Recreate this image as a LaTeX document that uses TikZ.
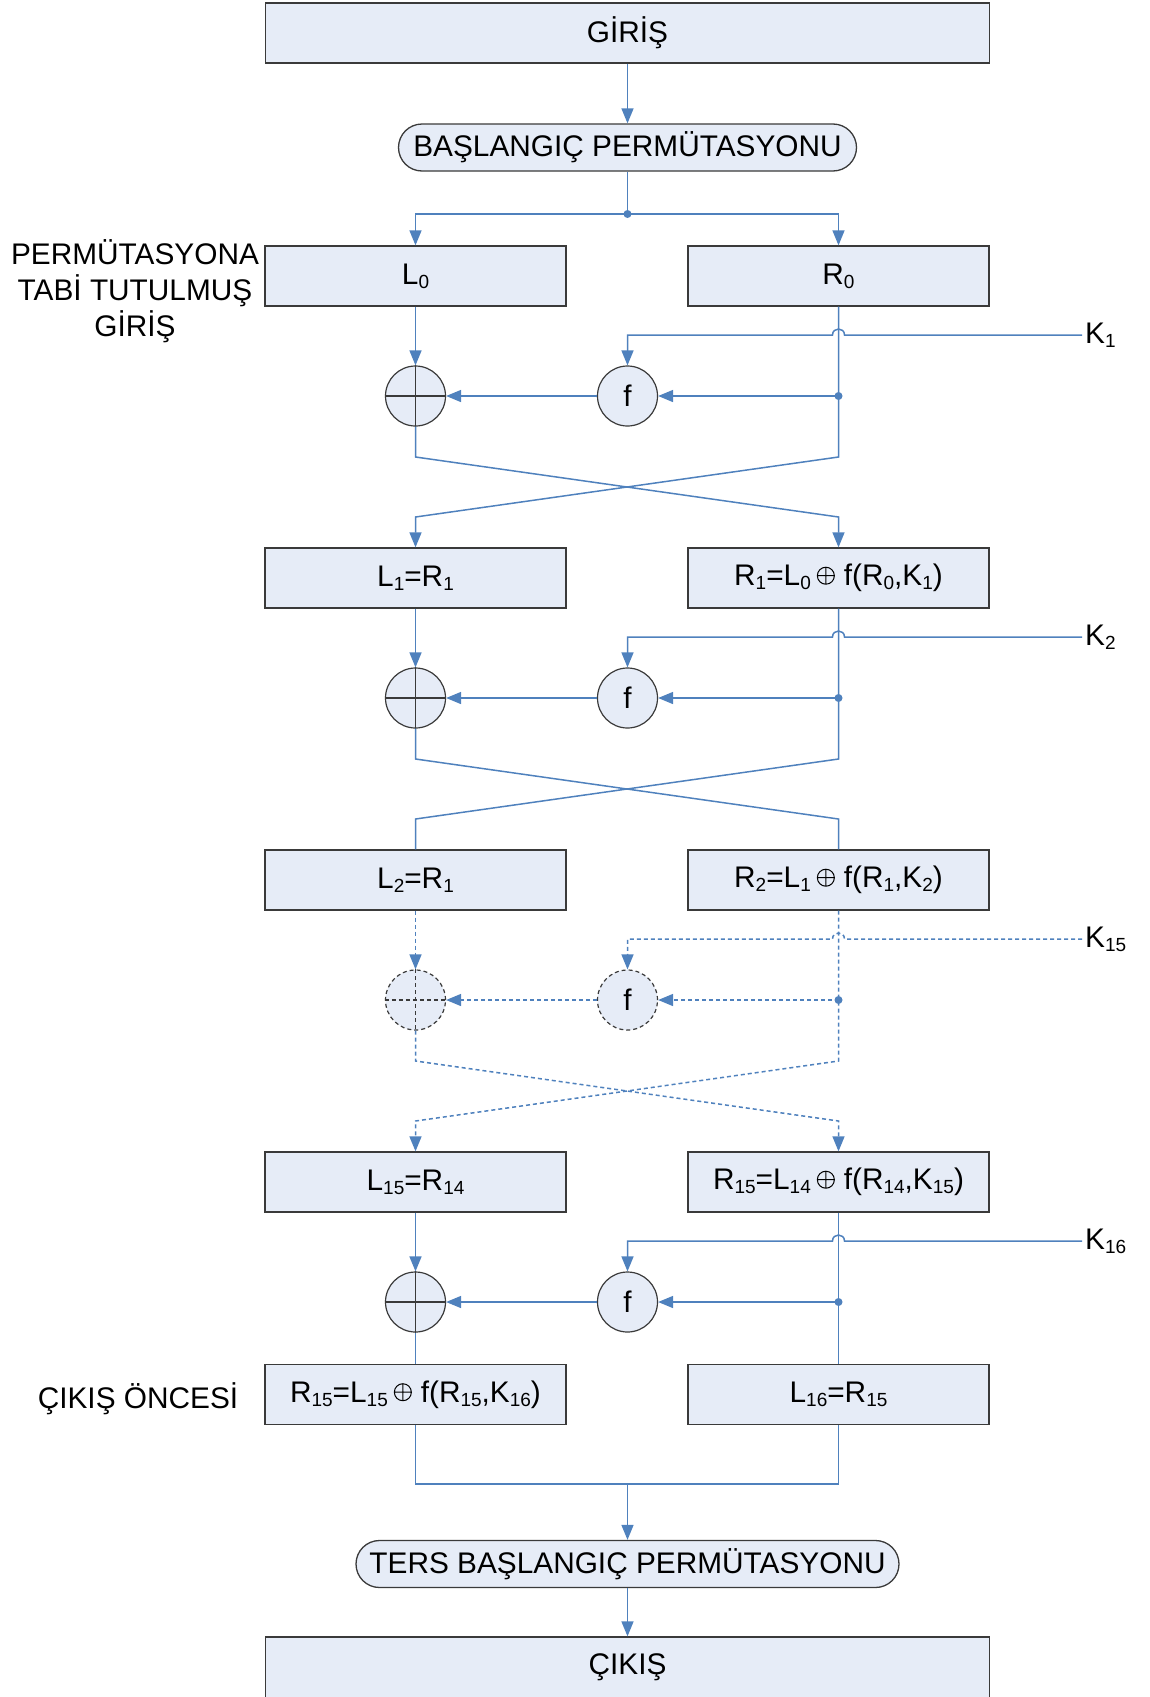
\documentclass[tikz,border=0pt]{standalone}
\usepackage{fontspec}
\setmainfont{Liberation Sans}
\usetikzlibrary{arrows.meta,shapes.misc}

\definecolor{wirec}{HTML}{4F81BD}
\definecolor{boxfill}{HTML}{E6ECF7}
\definecolor{boxline}{HTML}{3A3A3A}

% lowered index digits and the XOR sign used inside the box texts
\newcommand\sub[1]{\raisebox{-4pt}{\fontsize{19}{19}\selectfont #1}}
\newcommand\xo{\hspace{6pt}\tikz[baseline=0pt,x=1pt,y=1pt]{%
  \draw[black, line width=1pt] (0,10) circle[radius=8.5pt]
    (-8.5,10) -- (8.5,10) (0,1.5) -- (0,18.5);}\hspace{9pt}}

\tikzset{
  every node/.style={font=\fontsize{29.8}{36}\selectfont, text=black},
  stage/.style={draw=boxline, line width=1.3pt, fill=boxfill,
    minimum width=301pt, minimum height=60pt, inner sep=0pt},
  perm/.style={draw=boxline, line width=1.3pt, fill=boxfill, rounded rectangle,
    minimum height=47pt, inner sep=0pt},
  op/.style={circle, draw=boxline, line width=1.2pt, fill=boxfill,
    minimum size=60pt, inner sep=0pt},
  wire/.style={draw=wirec, line width=1.5pt},
  flow/.style={wire, -{Triangle[length=15pt,width=12pt]}},
  jn/.style={circle, fill=wirec, inner sep=0pt, minimum size=8pt},
  klabel/.style={anchor=west, inner xsep=3pt, inner ysep=0pt},
  dashline/.style={dash pattern=on 4pt off 3pt},
  plain/.style={}
}

\begin{document}
\begin{tikzpicture}[x=1pt,y=-1pt]
\useasboundingbox (0,0) rectangle (1149,1697);

% input and initial permutation
\node[stage, minimum width=724pt] (in) at (627.5,33) {GİRİŞ};
\node[perm, minimum width=458pt] (ip) at (627.5,147.5) {BAŞLANGIÇ PERMÜTASYONU};
\node[jn] (j0) at (627.5,214) {};

% round boxes
\node[stage] (L0) at (415.5,276) {L\sub{0}};
\node[stage] (R0) at (838.5,276) {R\sub{0}};
\node[stage] (L1) at (415.5,578) {L\sub{1}=R\sub{1}};
\node[stage] (R1) at (838.5,578) {R\sub{1}=L\sub{0}\xo f(R\sub{0},K\sub{1})};
\node[stage] (L2) at (415.5,880) {L\sub{2}=R\sub{1}};
\node[stage] (R2) at (838.5,880) {R\sub{2}=L\sub{1}\xo f(R\sub{1},K\sub{2})};
\node[stage] (L3) at (415.5,1182) {L\sub{15}=R\sub{14}};
\node[stage] (R3) at (838.5,1182) {R\sub{15}=L\sub{14}\xo f(R\sub{14},K\sub{15})};
\node[stage] (LF) at (415.5,1394.5) {R\sub{15}=L\sub{15}\xo f(R\sub{15},K\sub{16})};
\node[stage] (RF) at (838.5,1394.5) {L\sub{16}=R\sub{15}};

% side labels
\node[align=center] (pl) at (135,291) {PERMÜTASYONA\\TABİ TUTULMUŞ\\GİRİŞ};
\node (pre) at (138,1399) {ÇIKIŞ ÖNCESİ};

% final permutation and output
\coordinate (mg) at (627.5,1484);
\node[perm, minimum width=543pt] (fp) at (627.5,1564) {TERS BAŞLANGIÇ PERMÜTASYONU};
\node[stage, minimum width=724pt, minimum height=61pt] (out) at (627.5,1667.5) {ÇIKIŞ};

% top connections
\draw[flow] (in.south) -- (ip.north);
\draw[wire] (ip.south) -- (j0.center);
\draw[flow] (j0.center) -| (L0.north);
\draw[flow] (j0.center) -| (R0.north);

% one Feistel round per row: XOR, f, key input
\foreach \r/\T/\k/\sty in {0/246/1/plain, 1/548/2/plain, 2/850/15/dashline, 3/1152/16/plain}{
  \node[op,\sty] (x\r) at (415.5,\T+150) {};
  \draw[boxline, line width=1.1pt, \sty] (x\r.north) -- (x\r.south) (x\r.west) -- (x\r.east);
  \node[op,\sty] (f\r) at (627.5,\T+150) {f};
  \node[jn] (d\r) at (838.5,\T+150) {};
  \node[klabel] (k\r) at (1082,\T+89) {K\sub{\k}};
  \draw[flow,\sty] (k\r.west) -- (844.5,\T+89)
     .. controls (844.5,\T+81) and (832.5,\T+81) .. (832.5,\T+89) -| (f\r.north);
  \draw[flow,\sty] (d\r.center) -- (f\r.east);
  \draw[flow,\sty] (f\r.west) -- (x\r.east);
  \draw[flow,\sty] (L\r.south) -- (x\r.north);
  \coordinate (cl\r) at (415.5,\T+211);
  \coordinate (cr\r) at (838.5,\T+211);
  \coordinate (el\r) at (415.5,\T+271);
  \coordinate (er\r) at (838.5,\T+271);
}

% swaps between rounds
\draw[flow] (x0.south) -- (cl0) -- (er0) -- (R1.north);
\draw[flow] (R0.south) -- (cr0) -- (el0) -- (L1.north);
\draw[wire] (x1.south) -- (cl1) -- (er1) -- (R2.north);
\draw[wire] (R1.south) -- (cr1) -- (el1) -- (L2.north);
\draw[flow,dashline] (x2.south) -- (cl2) -- (er2) -- (R3.north);
\draw[flow,dashline] (R2.south) -- (cr2) -- (el2) -- (L3.north);

% last round without swap
\draw[wire] (x3.south) -- (LF.north);
\draw[wire] (R3.south) -- (RF.north);
\draw[wire] (LF.south) |- (mg) -| (RF.south);
\draw[flow] (mg) -- (fp.north);
\draw[flow] (fp.south) -- (out.north);
\end{tikzpicture}
\end{document}
